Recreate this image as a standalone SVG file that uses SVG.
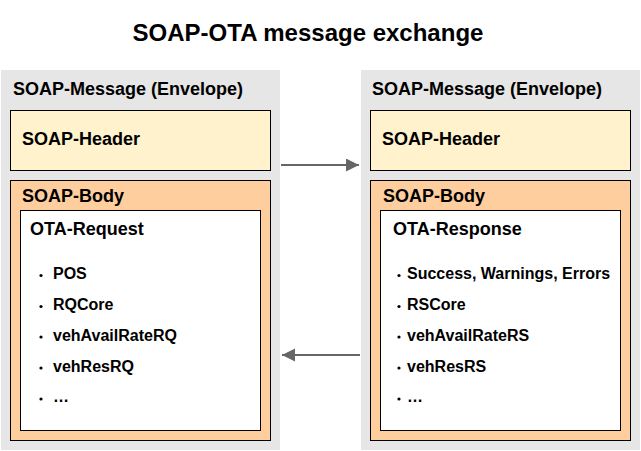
<svg xmlns="http://www.w3.org/2000/svg" width="641" height="451" viewBox="0 0 641 451">
<style>
text{font-family:"Liberation Sans",Arial,Helvetica,sans-serif;font-weight:bold;fill:#000}
.t18{font-size:18px}
.t16{font-size:16px}
.env{fill:#e6e6e6;stroke:none}
.hdr{fill:#fff2cc;stroke:#000;stroke-width:1}
.body{fill:#ffce9f;stroke:#000;stroke-width:1}
.ota{fill:#fff;stroke:#000;stroke-width:1}
.conn{stroke:#666;stroke-width:2;fill:none}
.dot{fill:#000}
</style>
<defs>
<marker id="ah" markerUnits="userSpaceOnUse" markerWidth="14" markerHeight="14" refX="13" refY="6.5" orient="auto">
<path d="M0,0 L13,6.5 L0,13 Z" fill="#666"/>
</marker>
</defs>
<text x="308" y="41" text-anchor="middle" style="font-size:24px">SOAP-OTA message exchange</text>
<g id="left-envelope">
<rect class="env" x="1" y="70" width="279" height="380"/>
<text class="t18" x="13" y="95">SOAP-Message (Envelope)</text>
</g>
<g id="left-header">
<rect class="hdr" x="10.5" y="110.5" width="260" height="60"/>
<text class="t18" x="22" y="145">SOAP-Header</text>
</g>
<g id="left-body">
<rect class="body" x="10.5" y="180.5" width="260" height="260"/>
<text class="t18" x="22" y="202">SOAP-Body</text>
</g>
<g id="ota-request">
<rect class="ota" x="20.5" y="210.5" width="240" height="220"/>
<text class="t18" x="30" y="235">OTA-Request</text>
<circle class="dot" cx="41" cy="275.5" r="1.6"/>
<text class="t16" x="53" y="279">POS</text>
<circle class="dot" cx="41" cy="306.5" r="1.6"/>
<text class="t16" x="53" y="310">RQCore</text>
<circle class="dot" cx="41" cy="337" r="1.6"/>
<text class="t16" x="53" y="340.5">vehAvailRateRQ</text>
<circle class="dot" cx="41" cy="368" r="1.6"/>
<text class="t16" x="53" y="371.5">vehResRQ</text>
<circle class="dot" cx="41" cy="399" r="1.6"/>
<text class="t16" x="53" y="402">…</text>
</g>
<g id="right-envelope">
<rect class="env" x="361" y="70" width="279" height="380"/>
<text class="t18" x="372" y="95">SOAP-Message (Envelope)</text>
</g>
<g id="right-header">
<rect class="hdr" x="370.5" y="110.5" width="260" height="60"/>
<text class="t18" x="382" y="145">SOAP-Header</text>
</g>
<g id="right-body">
<rect class="body" x="370.5" y="180.5" width="260" height="260"/>
<text class="t18" x="383" y="202">SOAP-Body</text>
</g>
<g id="ota-response">
<rect class="ota" x="380.5" y="210.5" width="240" height="220"/>
<text class="t18" x="393" y="235">OTA-Response</text>
<circle class="dot" cx="399" cy="275.5" r="1.6"/>
<text class="t16" x="407" y="279">Success, Warnings, Errors</text>
<circle class="dot" cx="399" cy="306.5" r="1.6"/>
<text class="t16" x="407" y="310">RSCore</text>
<circle class="dot" cx="399" cy="337" r="1.6"/>
<text class="t16" x="407" y="340.5">vehAvailRateRS</text>
<circle class="dot" cx="399" cy="368" r="1.6"/>
<text class="t16" x="407" y="371.5">vehResRS</text>
<circle class="dot" cx="399" cy="399" r="1.6"/>
<text class="t16" x="407" y="402">…</text>
</g>
<g id="connectors">
<line class="conn" x1="281" y1="165" x2="359" y2="165" marker-end="url(#ah)"/>
<line class="conn" x1="360" y1="355" x2="282" y2="355" marker-end="url(#ah)"/>
</g>
</svg>
